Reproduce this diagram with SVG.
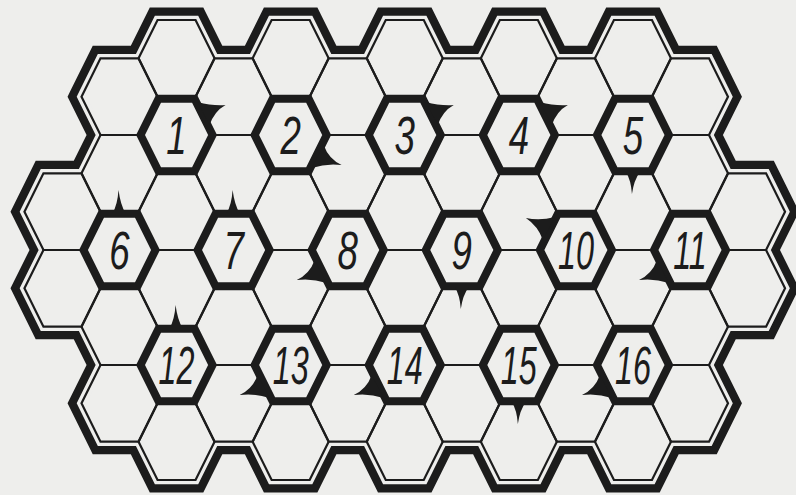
<svg xmlns="http://www.w3.org/2000/svg" width="796" height="495" viewBox="0 0 796 495">
<style>
.bg{fill:#eeeeec}
.thin{fill:none;stroke:#1c1c1c;stroke-width:2.2;stroke-linejoin:miter}
.bold{fill:none;stroke:#1c1c1c;stroke-width:8;stroke-linejoin:miter}
.flag{fill:#1c1c1c}
.bout{fill:none;stroke:#1c1c1c;stroke-width:25;stroke-linejoin:miter}
.bgap{fill:#eeeeec;stroke:#eeeeec;stroke-width:8.6;stroke-linejoin:miter}
.lbl{font-family:"Liberation Sans",Arial,sans-serif;font-style:italic;font-size:54px;fill:#1c1c1c;text-anchor:middle}
</style>
<defs>
<path id="h" d="M-38,0 L-19,-38.33 L19,-38.33 L38,0 L19,38.33 L-19,38.33 Z"/>
<path id="hb" d="M-36,0 L-18,-36.2 L18,-36.2 L36,0 L18,36.2 L-18,36.2 Z"/>
<path id="fLB" d="M-33,10 Q-38,24 -51,30 Q-36,28 -21,33 Z"/>
<path id="fLR" d="M33,10 Q38,24 51,30 Q36,28 21,33 Z"/>
<path id="fUR" d="M33,-10 Q38,-24 49,-30 Q36,-29 21,-33 Z"/>
<path id="fLT" d="M-33,-10 Q-38,-24 -50,-32 Q-36,-29 -21,-33 Z"/>
<path id="fT" d="M-7,-37 Q-2,-45 -1,-60 Q1,-45 6,-37 Z"/>
<path id="fB" d="M-7,37 Q-2,45 -1,59 Q1,45 7,37 Z"/>
<polygon id="outline" points="81.5,96.67 100.5,58.33 138.55,58.33 157.55,20 195.55,20 214.6,58.33 252.6,58.33 271.65,20 309.65,20 328.7,58.33 366.7,58.33 385.75,20 423.75,20 442.8,58.33 480.8,58.33 499.85,20 537.85,20 556.9,58.33 594.9,58.33 613.95,20 651.95,20 671,58.33 709,58.33 728,96.67 709,135 728.05,173.33 766.05,173.33 785.05,211.67 766.05,250 785.05,288.33 766.05,326.67 728.05,326.67 709,365 728,403.33 709,441.67 671,441.67 651.95,480 613.95,480 594.9,441.67 556.9,441.67 537.85,480 499.85,480 480.8,441.67 442.8,441.67 423.75,480 385.75,480 366.7,441.67 328.7,441.67 309.65,480 271.65,480 252.6,441.67 214.6,441.67 195.55,480 157.55,480 138.55,441.67 100.5,441.67 81.5,403.33 100.5,365 81.5,326.67 43.45,326.67 24.45,288.33 43.45,250 24.45,211.67 43.45,173.33 81.5,173.33 100.5,135"/>
</defs>
<rect class="bg" x="0" y="0" width="796" height="495"/>
<g id="border">
<use href="#outline" class="bout"/>
<use href="#outline" class="bgap"/>
</g>
<g id="grid" class="thin">
<use href="#h" x="62.45" y="211.67"/><use href="#h" x="62.45" y="288.33"/>
<use href="#h" x="119.5" y="96.67"/><use href="#h" x="119.5" y="173.33"/><use href="#h" x="119.5" y="250"/><use href="#h" x="119.5" y="326.67"/><use href="#h" x="119.5" y="403.33"/>
<use href="#h" x="176.55" y="58.33"/><use href="#h" x="176.55" y="135"/><use href="#h" x="176.55" y="211.67"/><use href="#h" x="176.55" y="288.33"/><use href="#h" x="176.55" y="365"/><use href="#h" x="176.55" y="441.67"/>
<use href="#h" x="233.6" y="96.67"/><use href="#h" x="233.6" y="173.33"/><use href="#h" x="233.6" y="250"/><use href="#h" x="233.6" y="326.67"/><use href="#h" x="233.6" y="403.33"/>
<use href="#h" x="290.65" y="58.33"/><use href="#h" x="290.65" y="135"/><use href="#h" x="290.65" y="211.67"/><use href="#h" x="290.65" y="288.33"/><use href="#h" x="290.65" y="365"/><use href="#h" x="290.65" y="441.67"/>
<use href="#h" x="347.7" y="96.67"/><use href="#h" x="347.7" y="173.33"/><use href="#h" x="347.7" y="250"/><use href="#h" x="347.7" y="326.67"/><use href="#h" x="347.7" y="403.33"/>
<use href="#h" x="404.75" y="58.33"/><use href="#h" x="404.75" y="135"/><use href="#h" x="404.75" y="211.67"/><use href="#h" x="404.75" y="288.33"/><use href="#h" x="404.75" y="365"/><use href="#h" x="404.75" y="441.67"/>
<use href="#h" x="461.8" y="96.67"/><use href="#h" x="461.8" y="173.33"/><use href="#h" x="461.8" y="250"/><use href="#h" x="461.8" y="326.67"/><use href="#h" x="461.8" y="403.33"/>
<use href="#h" x="518.85" y="58.33"/><use href="#h" x="518.85" y="135"/><use href="#h" x="518.85" y="211.67"/><use href="#h" x="518.85" y="288.33"/><use href="#h" x="518.85" y="365"/><use href="#h" x="518.85" y="441.67"/>
<use href="#h" x="575.9" y="96.67"/><use href="#h" x="575.9" y="173.33"/><use href="#h" x="575.9" y="250"/><use href="#h" x="575.9" y="326.67"/><use href="#h" x="575.9" y="403.33"/>
<use href="#h" x="632.95" y="58.33"/><use href="#h" x="632.95" y="135"/><use href="#h" x="632.95" y="211.67"/><use href="#h" x="632.95" y="288.33"/><use href="#h" x="632.95" y="365"/><use href="#h" x="632.95" y="441.67"/>
<use href="#h" x="690" y="96.67"/><use href="#h" x="690" y="173.33"/><use href="#h" x="690" y="250"/><use href="#h" x="690" y="326.67"/><use href="#h" x="690" y="403.33"/>
<use href="#h" x="747.05" y="211.67"/><use href="#h" x="747.05" y="288.33"/>
</g>
<g id="hex-1" transform="translate(176.55,135)"><use href="#hb" class="bold"/><use href="#fUR" class="flag"/><text class="lbl" transform="scale(0.68,1)" y="19">1</text></g>
<g id="hex-2" transform="translate(290.65,135)"><use href="#hb" class="bold"/><use href="#fLR" class="flag"/><text class="lbl" transform="scale(0.68,1)" y="19">2</text></g>
<g id="hex-3" transform="translate(404.75,135)"><use href="#hb" class="bold"/><use href="#fUR" class="flag"/><text class="lbl" transform="scale(0.68,1)" y="19">3</text></g>
<g id="hex-4" transform="translate(518.85,135)"><use href="#hb" class="bold"/><use href="#fUR" class="flag"/><text class="lbl" transform="scale(0.68,1)" y="19">4</text></g>
<g id="hex-5" transform="translate(632.95,135)"><use href="#hb" class="bold"/><use href="#fB" class="flag"/><text class="lbl" transform="scale(0.68,1)" y="19">5</text></g>
<g id="hex-6" transform="translate(119.5,250)"><use href="#hb" class="bold"/><use href="#fT" class="flag"/><text class="lbl" transform="scale(0.68,1)" y="19">6</text></g>
<g id="hex-7" transform="translate(233.6,250)"><use href="#hb" class="bold"/><use href="#fT" class="flag"/><text class="lbl" transform="scale(0.68,1)" y="19">7</text></g>
<g id="hex-8" transform="translate(347.7,250)"><use href="#hb" class="bold"/><use href="#fLB" class="flag"/><text class="lbl" transform="scale(0.68,1)" y="19">8</text></g>
<g id="hex-9" transform="translate(461.8,250)"><use href="#hb" class="bold"/><use href="#fB" class="flag"/><text class="lbl" transform="scale(0.68,1)" y="19">9</text></g>
<g id="hex-10" transform="translate(575.9,250)"><use href="#hb" class="bold"/><use href="#fLT" class="flag"/><text class="lbl" transform="scale(0.6,1)" y="19">10</text></g>
<g id="hex-11" transform="translate(690,250)"><use href="#hb" class="bold"/><use href="#fLB" class="flag"/><text class="lbl" transform="scale(0.6,1)" y="19">11</text></g>
<g id="hex-12" transform="translate(176.55,365)"><use href="#hb" class="bold"/><use href="#fT" class="flag"/><text class="lbl" transform="scale(0.6,1)" y="19">12</text></g>
<g id="hex-13" transform="translate(290.65,365)"><use href="#hb" class="bold"/><use href="#fLB" class="flag"/><text class="lbl" transform="scale(0.6,1)" y="19">13</text></g>
<g id="hex-14" transform="translate(404.75,365)"><use href="#hb" class="bold"/><use href="#fLB" class="flag"/><text class="lbl" transform="scale(0.6,1)" y="19">14</text></g>
<g id="hex-15" transform="translate(518.85,365)"><use href="#hb" class="bold"/><use href="#fB" class="flag"/><text class="lbl" transform="scale(0.6,1)" y="19">15</text></g>
<g id="hex-16" transform="translate(632.95,365)"><use href="#hb" class="bold"/><use href="#fLB" class="flag"/><text class="lbl" transform="scale(0.6,1)" y="19">16</text></g>
</svg>
